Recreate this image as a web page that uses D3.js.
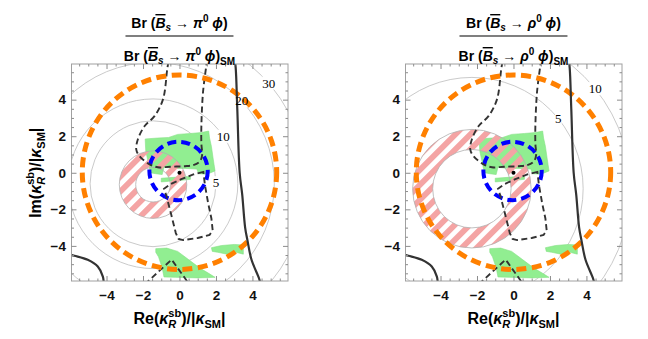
<!DOCTYPE html>
<html>
<head>
<meta charset="utf-8">
<script src="https://cdn.jsdelivr.net/npm/d3@7"></script>
<style>
  body { margin: 0; background: #fff; }
  svg { display: block; }
</style>
</head>
<body>
<script>
// ---- values (units of |kappa_SM|) ----
var majorTicks = [-4, -2, 0, 2, 4];
var minorTicks = [-5.5, -5, -4.5, -3.5, -3, -2.5, -1.5, -1, -0.5, 0.5, 1, 1.5, 2.5, 3, 3.5, 4.5, 5, 5.5];

var smPoint = [0, 0];
var orangeRing = [0.0, 0.03, 5.33];     // cx, cy, r
var blueRing = [-0.05, 0.1, 1.6];

var greenCore = [[-1.88, 1.85], [-1.2, 1.9], [-0.6, 1.93], [-0.1, 2.1], [0.6, 2.15], [1.2, 2.2],
  [1.6, 2.28], [1.65, 1.9], [1.75, 1.45], [1.85, 0.75], [1.95, 0.1], [1.5, -0.08], [1.05, -0.05],
  [0.95, 0.2], [0.3, 0.24], [-0.3, 0.24], [-0.85, 0.3], [-0.95, -0.1], [-1.3, -0.05], [-1.6, 0.0],
  [-1.72, 0.6], [-1.85, 1.2]];
var greenStrip = [[-1.0, -0.3], [-0.3, -0.25], [0.3, -0.2], [0.6, -0.22], [0.6, -0.36], [0.0, -0.42],
  [-0.6, -0.47], [-1.0, -0.5]];
var greenLow = [[-1.3, -4.15], [-0.7, -4.12], [-0.1, -4.3], [0.5, -4.75], [1.1, -5.2], [1.6, -5.5],
  [1.95, -5.72], [1.0, -5.75], [-0.2, -5.72], [-0.85, -5.7], [-0.95, -5.2], [-1.15, -4.6], [-1.3, -4.35]];
var greenSide = [[1.75, -4.1], [2.3, -3.98], [3.0, -3.92], [3.5, -3.95], [3.5, -4.45], [3.1, -4.35],
  [2.6, -4.45], [2.1, -4.35], [1.8, -4.3]];

var dashedU = [[-0.6, 6.1], [-0.67, 5.68], [-0.9, 4.03], [-1.36, 3.11], [-1.91, 2.56], [-2.28, 1.83],
  [-2.37, 1.28], [-2.19, 0.91], [-1.64, 0.46], [-1.18, 0.3], [-0.52, 0.33], [0.3, 0.36], [0.76, 0.42],
  [1.1, 0.6], [1.24, 0.95], [1.2, 1.6], [1.2, 2.56], [1.29, 4.4], [1.47, 5.86], [1.5, 6.1]];
var dashedLoop = [[1.31, 0.05], [0.76, -0.09], [0.1, -0.35], [-0.5, -0.62], [-0.85, -0.88],
  [-0.72, -1.25], [-0.45, -2.3], [-0.2, -3.3], [-0.05, -3.62], [0.2, -3.68], [1.0, -3.57],
  [1.65, -3.4], [1.82, -3.15], [1.75, -2.5], [1.57, -1.65], [1.4, -0.7]];
var dashedWedge = [[-1.9, -6.1], [-0.43, -4.75], [0.54, -6.1]];

var solidCurve = [[3.02, 6.2], [3.08, 5.77], [3.17, 3.48], [3.3, 0.0], [3.44, -1.2], [3.6, -3.0],
  [3.72, -3.66], [3.95, -4.76], [4.36, -5.77], [4.45, -6.1]];
var solidCorner = [[-6.1, -4.45], [-5.76, -4.54], [-5.03, -4.76], [-4.48, -5.13], [-4.2, -5.68], [-4.15, -6.1]];

// B_s -> pi0 phi panel
var piContourCentre = [-1.45, -0.6];
var piContourLevels = ["5", "10", "20", "30"];
var piContourRadii = [3.45, 4.65, 6.65, 8.4];
var piLabelAngles = [1, 34, 43, 41];
var piRing = [-1.45, -0.65, 0.95, 1.85];   // cx, cy, inner r, outer r

// B_s -> rho0 phi panel
var rhoContourCentre = [-2.28, -0.87];
var rhoContourLevels = ["5", "10"];
var rhoContourRadii = [6.1, 8.7];
var rhoLabelAngles = [39, 39];
var rhoRing = [-2.28, -0.87, 2.15, 3.25];

// ---- layout ----
var W = 648, H = 339;
var domain = [-5.92, 5.95];
var plotW = 216.5, plotTop = 64, plotBottom = 281;
var sans = "'Liberation Sans', Arial, Helvetica, sans-serif";

var panels = [
  {x0: 71.5, meson: "π", centre: piContourCentre, levels: piContourLevels, radii: piContourRadii,
   angles: piLabelAngles, ring: piRing, yTitle: true},
  {x0: 405.5, meson: "ρ", centre: rhoContourCentre, levels: rhoContourLevels, radii: rhoContourRadii,
   angles: rhoLabelAngles, ring: rhoRing, yTitle: false}
];

var svg = d3.select("body").append("svg")
    .attr("width", W)
    .attr("height", H);

var defs = svg.append("defs");

// pink hatch
var hatch = defs.append("pattern")
    .attr("id", "hatch")
    .attr("patternUnits", "userSpaceOnUse")
    .attr("width", 10.6)
    .attr("height", 10.6)
    .attr("patternTransform", "rotate(45)");
hatch.append("rect")
    .attr("width", 5.8)
    .attr("height", 10.6)
    .attr("fill", "#f4a4a4");

function measure(str, size, style) {
    var t = svg.append("text")
        .attr("font-family", sans)
        .attr("font-weight", "bold")
        .attr("font-size", size)
        .attr("font-style", style || "normal")
        .text(str);
    var w = t.node().getComputedTextLength();
    t.remove();
    return w;
}

function richText(sel, pieces) {
    pieces.forEach(function(p) {
        var t = sel.append("tspan").text(p.t);
        if (p.i) t.attr("font-style", "italic");
        if (p.fs) t.attr("font-size", p.fs);
        if (p.dx) t.attr("dx", p.dx);
        if (p.dy) t.attr("dy", p.dy);
        if (p.over) t.style("text-decoration", "overline");
    });
}

// axis title pieces, with the stacked sb / R
function axisTitle(sel, prefix) {
    var wSb = measure("sb", 11), wR = measure("R", 11, "italic");
    richText(sel, [
        {t: prefix + "("},
        {t: "κ", i: true},
        {t: "sb", fs: 11, dy: -7},
        {t: "R", fs: 11, i: true, dx: -wSb, dy: 11},
        {t: ")/|", dx: Math.max(0, wSb - wR), dy: -4},
        {t: "κ", i: true},
        {t: "SM", fs: 11, dy: 4},
        {t: "|", dy: -4}
    ]);
}

function titleRow(sel, meson, sm) {
    var pieces = [
        {t: "Br ("},
        {t: "B", i: true, over: true},
        {t: "s", i: true, fs: 10, dy: 3},
        {t: " → ", dy: -3},
        {t: meson, i: true},
        {t: "0", fs: 10, dy: -6},
        {t: " ", dy: 6},
        {t: "ϕ", i: true},
        {t: ")"}
    ];
    if (sm) pieces.push({t: "SM", fs: 10, dy: 4});
    richText(sel, pieces);
}

panels.forEach(function(p, idx) {

    var xScale = d3.scaleLinear().domain(domain).range([p.x0, p.x0 + plotW]);
    var yScale = d3.scaleLinear().domain(domain).range([plotBottom, plotTop]);
    var unit = xScale(1) - xScale(0);

    var clipId = "clip" + idx;
    defs.append("clipPath").attr("id", clipId)
        .append("rect")
        .attr("x", p.x0).attr("y", plotTop)
        .attr("width", plotW).attr("height", plotBottom - plotTop);

    var g = svg.append("g").attr("clip-path", "url(#" + clipId + ")");

    var linear = d3.line().x(function(d){ return xScale(d[0]); }).y(function(d){ return yScale(d[1]); });
    var closed = d3.line().curve(d3.curveLinearClosed)
        .x(function(d){ return xScale(d[0]); }).y(function(d){ return yScale(d[1]); });
    var smooth = d3.line().curve(d3.curveCatmullRom.alpha(0.5))
        .x(function(d){ return xScale(d[0]); }).y(function(d){ return yScale(d[1]); });

    // gray Br-ratio contours
    g.selectAll("circle.contour")
        .data(p.radii)
        .enter()
        .append("circle")
        .attr("class", "contour")
        .attr("cx", xScale(p.centre[0]))
        .attr("cy", yScale(p.centre[1]))
        .attr("r", function(d){ return d * unit; })
        .attr("fill", "none")
        .attr("stroke", "#bdbdbd")
        .attr("stroke-width", 0.8);

    var labelBg = g.append("g");

    // green allowed regions
    [greenCore, greenStrip, greenLow, greenSide].forEach(function(poly) {
        g.append("path")
            .attr("d", closed(poly))
            .attr("fill", "#91ee91")
            .attr("stroke", "#86e086")
            .attr("stroke-width", 0.6);
    });

    // hatched annulus
    var ring = d3.arc()
        .innerRadius(p.ring[2] * unit)
        .outerRadius(p.ring[3] * unit)
        .startAngle(0)
        .endAngle(2 * Math.PI);
    var ringG = g.append("g")
        .attr("transform", "translate(" + xScale(p.ring[0]) + "," + yScale(p.ring[1]) + ")");
    ringG.append("path").attr("d", ring()).attr("fill", "url(#hatch)");
    [p.ring[2], p.ring[3]].forEach(function(r) {
        ringG.append("circle")
            .attr("r", r * unit)
            .attr("fill", "none")
            .attr("stroke", "#b0b0b0")
            .attr("stroke-width", 0.8);
    });

    // blue dashed ring
    g.append("circle")
        .attr("cx", xScale(blueRing[0]))
        .attr("cy", yScale(blueRing[1]))
        .attr("r", blueRing[2] * unit)
        .attr("fill", "none")
        .attr("stroke", "#0000ff")
        .attr("stroke-width", 4)
        .attr("stroke-dasharray", "9,5");

    // black dashed curves
    var dashStyle = function(sel) {
        sel.attr("fill", "none")
            .attr("stroke", "#333")
            .attr("stroke-width", 1.9)
            .attr("stroke-dasharray", "6,3.5");
    };
    g.append("path").attr("d", smooth(dashedU)).call(dashStyle);
    g.append("path").attr("d", closed(dashedLoop)).call(dashStyle);
    g.append("path").attr("d", linear(dashedWedge)).call(dashStyle);

    // orange dashed ring
    g.append("circle")
        .attr("cx", xScale(orangeRing[0]))
        .attr("cy", yScale(orangeRing[1]))
        .attr("r", orangeRing[2] * unit)
        .attr("fill", "none")
        .attr("stroke", "#ff8000")
        .attr("stroke-width", 5)
        .attr("stroke-dasharray", "10,5.5");

    // black solid curves
    [solidCurve, solidCorner].forEach(function(c) {
        g.append("path")
            .attr("d", smooth(c))
            .attr("fill", "none")
            .attr("stroke", "#333")
            .attr("stroke-width", 2.2);
    });

    // SM point
    g.append("circle")
        .attr("cx", xScale(smPoint[0]))
        .attr("cy", yScale(smPoint[1]))
        .attr("r", 2)
        .attr("fill", "#000");

    // contour labels
    p.levels.forEach(function(lev, i) {
        var a = p.angles[i] * Math.PI / 180;
        var lx = xScale(p.centre[0] + p.radii[i] * Math.cos(a));
        var ly = yScale(p.centre[1] + p.radii[i] * Math.sin(a));
        var t = g.append("text")
            .attr("x", lx)
            .attr("y", ly)
            .attr("dy", "0.35em")
            .attr("text-anchor", "middle")
            .attr("font-family", "'Liberation Serif', 'Times New Roman', serif")
            .attr("font-size", 13)
            .attr("fill", "#000")
            .text(lev);
        var bb = t.node().getBBox();
        labelBg.append("rect")
            .attr("x", bb.x).attr("y", bb.y + 1)
            .attr("width", bb.width).attr("height", bb.height - 2)
            .attr("fill", "#fff");
    });

    // frame
    svg.append("rect")
        .attr("x", p.x0).attr("y", plotTop)
        .attr("width", plotW).attr("height", plotBottom - plotTop)
        .attr("fill", "none")
        .attr("stroke", "#a0a0a0")
        .attr("stroke-width", 1);

    // ticks on all four sides, pointing inward
    var sides = [
        {axis: d3.axisBottom(xScale), tr: "translate(0," + plotBottom + ")", labels: true, pad: 9},
        {axis: d3.axisTop(xScale), tr: "translate(0," + plotTop + ")"},
        {axis: d3.axisLeft(yScale), tr: "translate(" + p.x0 + ",0)", labels: true, pad: 5.5},
        {axis: d3.axisRight(yScale), tr: "translate(" + (p.x0 + plotW) + ",0)"}
    ];
    sides.forEach(function(s) {
        var major = s.axis.tickValues(majorTicks).tickSizeInner(-5).tickSizeOuter(0)
            .tickPadding(s.pad || 3);
        if (!s.labels) major.tickFormat("");
        var ga = svg.append("g").attr("transform", s.tr).call(major);
        ga.select(".domain").remove();
        ga.selectAll("line").attr("stroke", "#8c8c8c");
        ga.selectAll("text")
            .attr("font-family", sans)
            .attr("font-weight", "bold")
            .attr("font-size", 13.5)
            .attr("fill", "#111");

        var minor = s.axis.tickValues(minorTicks).tickSizeInner(-2.5).tickFormat("");
        var gm = svg.append("g").attr("transform", s.tr).call(minor);
        gm.select(".domain").remove();
        gm.selectAll("line").attr("stroke", "#8c8c8c");
    });

    var cx = xScale(0);

    // title as a fraction
    var num = svg.append("text")
        .attr("x", cx).attr("y", 28)
        .attr("text-anchor", "middle")
        .attr("font-family", sans)
        .attr("font-weight", "bold")
        .attr("font-size", 14);
    titleRow(num, p.meson, false);

    svg.append("line")
        .attr("x1", cx - 54).attr("x2", cx + 54)
        .attr("y1", 36).attr("y2", 36)
        .attr("stroke", "#000")
        .attr("stroke-width", 1.2);

    var den = svg.append("text")
        .attr("x", cx).attr("y", 61)
        .attr("text-anchor", "middle")
        .attr("font-family", sans)
        .attr("font-weight", "bold")
        .attr("font-size", 14);
    titleRow(den, p.meson, true);

    // x axis title
    var xt = svg.append("text")
        .attr("x", cx).attr("y", 324)
        .attr("text-anchor", "middle")
        .attr("font-family", sans)
        .attr("font-weight", "bold")
        .attr("font-size", 16);
    axisTitle(xt, "Re");

    // y axis title
    if (p.yTitle) {
        var yt = svg.append("text")
            .attr("transform", "translate(41," + yScale(0) + ") rotate(-90)")
            .attr("text-anchor", "middle")
            .attr("font-family", sans)
            .attr("font-weight", "bold")
            .attr("font-size", 16);
        axisTitle(yt, "Im");
    }
});
</script>
</body>
</html>
